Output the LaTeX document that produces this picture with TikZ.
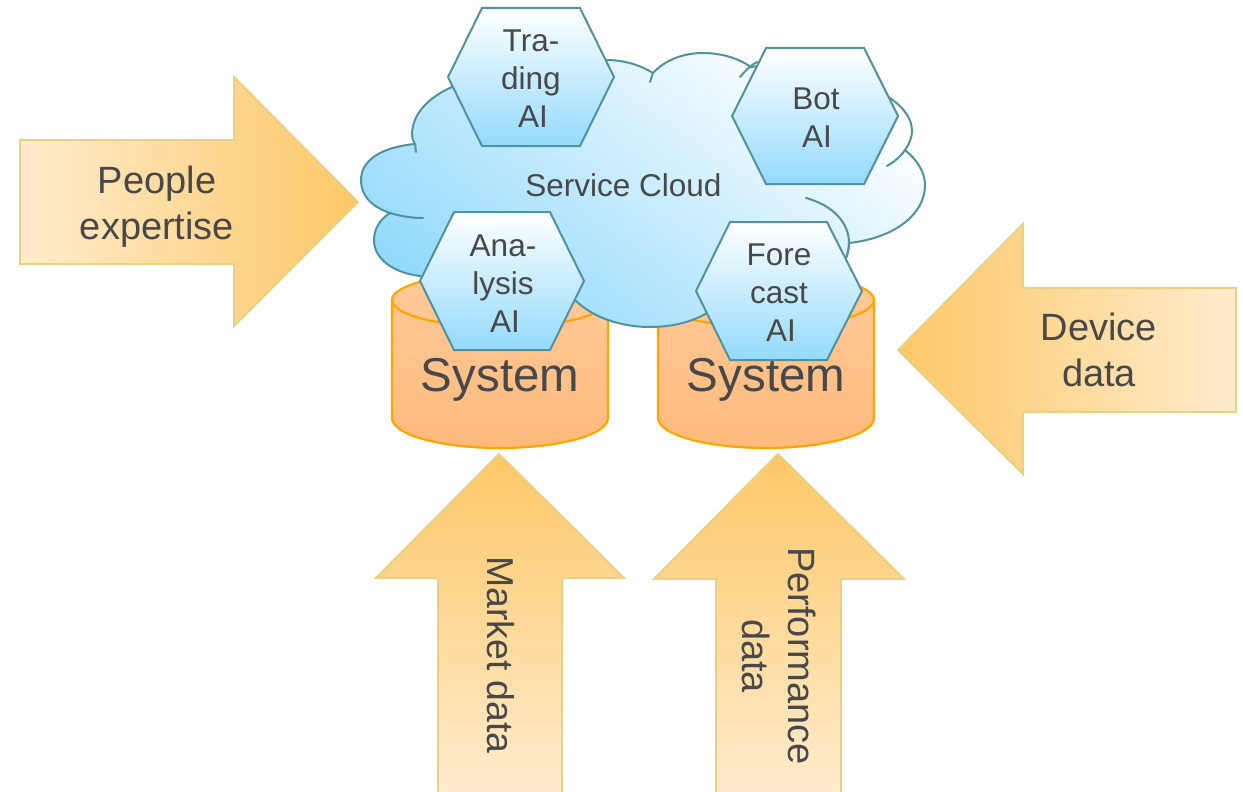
\documentclass[tikz,border=0pt]{standalone}
\usepackage{fontspec}
\setmainfont{Liberation Sans}
\definecolor{txt}{HTML}{484848}
\definecolor{teal1}{HTML}{53919E}
\definecolor{skyb}{HTML}{93DAFC}
\definecolor{arrowedge}{HTML}{E6D184}
\definecolor{arrowdark}{HTML}{FDC766}
\definecolor{arrowlight}{HTML}{FFECCE}
\definecolor{cyltop}{HTML}{FFCA99}
\definecolor{cylbot}{HTML}{FFBA7C}
\definecolor{cyledge}{HTML}{FFA500}
\tikzset{
  bigarrow/.style={draw=arrowedge,line width=2pt,line join=miter},
  hexbox/.style={draw=teal1,line width=2pt,top color=white,bottom color=skyb,line join=miter},
  cylbody/.style={draw=cyledge,line width=2.2pt,top color=cyltop,bottom color=cylbot},
  cylrim/.style={draw=cyledge,line width=2.2pt},
  cloudedge/.style={draw=teal1,line width=2pt,line cap=round},
  arrowlabel/.style={text=txt,align=center,font=\fontsize{38}{46}\selectfont},
  hexlabel/.style={text=txt,align=center,font=\fontsize{31.5}{38}\selectfont},
  syslabel/.style={text=txt,font=\fontsize{47.5}{56}\selectfont},
}
\begin{document}
\begin{tikzpicture}[x=1pt,y=-1pt]
\useasboundingbox (0,0) rectangle (1243,792);
% input arrows
\path[bigarrow,left color=arrowlight,right color=arrowdark]
  (20,140) -- (234,140) -- (234,77) -- (358,202) -- (234,326) -- (234,264) -- (20,264) -- cycle;
\path[bigarrow,left color=arrowdark,right color=arrowlight]
  (1236,288) -- (1023,288) -- (1023,224) -- (898,350) -- (1023,474) -- (1023,412) -- (1236,412) -- cycle;
\path[bigarrow,top color=arrowdark,bottom color=arrowlight]
  (438,793) -- (438,578) -- (376,578) -- (499,454) -- (624,578) -- (562,578) -- (562,793) -- cycle;
\path[bigarrow,top color=arrowdark,bottom color=arrowlight]
  (716,793) -- (716,579) -- (654,579) -- (778,454) -- (904,579) -- (841,579) -- (841,793) -- cycle;
\node[arrowlabel] (people) at (157,207) {People\\expertise};
\node[arrowlabel] (device) at (1099,350) {Device\\data};
\node[arrowlabel,rotate=-90,font=\fontsize{37.4}{46}\selectfont] (market) at (501,655) {Market data};
\node[arrowlabel,rotate=-90] (perf) at (779,656) {Performance\\data};
% systems (y axis points down, so angles 180 to 360 run over the top)
\path[cylbody] (392,300) arc[x radius=108,y radius=27,start angle=180,end angle=360]
  -- (608,418) arc[x radius=108,y radius=30,start angle=0,end angle=180] -- cycle;
\draw[cylrim] (392,300) arc[x radius=108,y radius=27,start angle=180,end angle=0];
\path[cylbody] (658,300) arc[x radius=108,y radius=27,start angle=180,end angle=360]
  -- (874,418) arc[x radius=108,y radius=30,start angle=0,end angle=180] -- cycle;
\draw[cylrim] (658,300) arc[x radius=108,y radius=27,start angle=180,end angle=0];
\node[syslabel] (sysa) at (500,380) {System};
\node[syslabel] (sysb) at (766,380) {System};
% cloud
\path[cloudedge,top color=white,bottom color=skyb,shading angle=-35]
  (415,144)
  .. controls (382,147) and (361,160) .. (361,180)
  .. controls (361,196) and (372,207) .. (390,213)
  .. controls (379,220) and (374,230) .. (374,240)
  .. controls (374,260) and (395,273) .. (420,276)
  -- (500,300) -- (575,300)
  .. controls (592,317) and (620,327) .. (650,327)
  .. controls (672,327) and (692,322) .. (707,313)
  -- (790,300) -- (846,258)
  .. controls (848,253) and (849,248) .. (849,243)
  .. controls (895,238) and (925,214) .. (925,185)
  .. controls (925,172) and (917,160) .. (905,150)
  .. controls (909,144) and (912,138) .. (912,131)
  .. controls (912,118) and (903,107) .. (890,98)
  -- (800,60) -- (751,67)
  .. controls (738,58) and (721,53) .. (703,53)
  .. controls (682,53) and (664,61) .. (653,73)
  .. controls (640,65) and (624,60) .. (606,60)
  -- (520,50) -- (452,87)
  .. controls (427,98) and (412,115) .. (412,135)
  .. controls (412,138) and (413,141) .. (415,144) -- cycle;
% inner cloud creases
\draw[cloudedge] (415,144) -- (416,152);
\draw[cloudedge] (390,213) .. controls (400,216) and (411,218) .. (423,218);
\draw[cloudedge] (653,73) -- (650,82);
\draw[cloudedge] (757,62) .. controls (751,65) and (745,71) .. (740,77);
\draw[cloudedge] (905,150) .. controls (900,157) and (894,162) .. (887,166);
\draw[cloudedge] (806,198) .. controls (832,205) and (849,222) .. (849,243);
\draw[cloudedge] (849,243) .. controls (849,248) and (848,253) .. (846,258);
\node[text=txt,font=\fontsize{31.5}{38}\selectfont] (cloud) at (623.5,185) {Service Cloud};
% AI hexagons
\path[hexbox] (482,8) -- (580,8) -- (614,77) -- (580,146) -- (482,146) -- (448,77) -- cycle;
\path[hexbox] (766,48) -- (864,48) -- (898,116) -- (864,184) -- (766,184) -- (732,116) -- cycle;
\path[hexbox] (454,212) -- (550,212) -- (584,281) -- (550,350) -- (454,350) -- (420,281) -- cycle;
\path[hexbox] (730,222) -- (827,222) -- (862,291) -- (827,360) -- (730,360) -- (696,291) -- cycle;
\node[hexlabel] (trading) at (531,79) {Tra-\\ding\\\hspace*{4pt}AI};
\node[hexlabel] (bot) at (816,118) {Bot\\\hspace*{2pt}AI};
\node[hexlabel] (analysis) at (503,284) {Ana-\\lysis\\\hspace*{4pt}AI};
\node[hexlabel] (forecast) at (779,293) {Fore\\cast\\\hspace*{4pt}AI};
\end{tikzpicture}
\end{document}
